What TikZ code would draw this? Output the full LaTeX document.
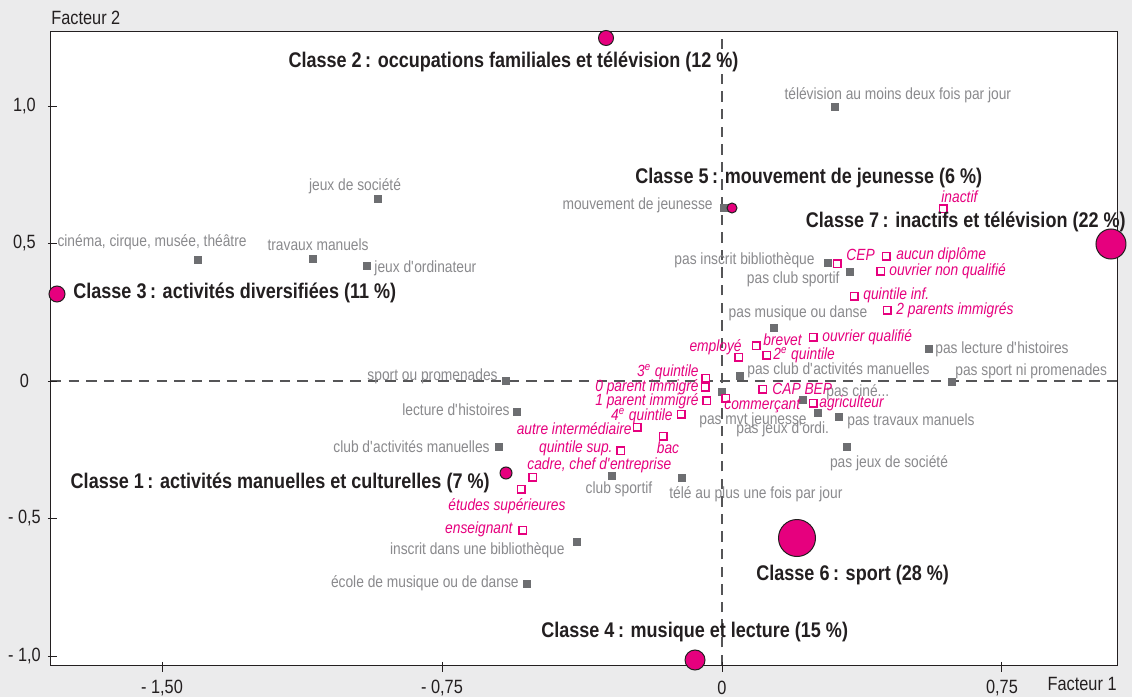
\documentclass[tikz,border=0pt]{standalone}
\usepackage{fontspec}
\setmainfont{Liberation Sans}[FakeStretch=0.85]
\usepackage{tikz}
\definecolor{Magenta}{HTML}{E6007E}
\definecolor{MarkGrey}{HTML}{6D6E71}
\definecolor{TextGrey}{HTML}{8A8A8D}
\definecolor{AxisGrey}{HTML}{555557}
\definecolor{ClassBlack}{HTML}{231F20}
\definecolor{BackGrey}{HTML}{EBEBEC}
\newcommand{\MarkSize}{3.9pt}
\newcommand{\BoxSize}{3.8pt}
\tikzset{GreyMark/.style={
    inner sep=0pt,
    minimum size=\MarkSize,
    fill=MarkGrey
    }
}
\tikzset{PinkMark/.style={
    inner sep=0pt,
    minimum size=\BoxSize,
    draw=Magenta,
    line width=0.7pt,
    fill=white
    }
}
\tikzset{ClassDot/.style={
    circle,
    inner sep=0pt,
    draw=ClassBlack,
    line width=0.5pt,
    fill=Magenta
    }
}
\tikzset{GreyText/.style={
    inner sep=0pt,
    text=TextGrey,
    font=\fontsize{8.1}{9}\selectfont
    }
}
\tikzset{PinkText/.style={
    inner sep=0pt,
    text=Magenta,
    font=\fontsize{8.1}{9}\selectfont\itshape
    }
}
\tikzset{ClassText/.style={
    inner sep=0pt,
    text=ClassBlack,
    font=\fontsize{10.6}{12}\selectfont\bfseries
    }
}
\tikzset{TickText/.style={
    inner sep=0pt,
    text=ClassBlack,
    font=\fontsize{9.6}{11}\selectfont
    }
}
\tikzset{AxisLine/.style={
    draw=AxisGrey,
    line width=1.1pt,
    dash pattern=on 5.2pt off 3.6pt
    }
}
\tikzset{TickLine/.style={
    draw=ClassBlack,
    line width=0.5pt
    }
}

\begin{document}
\begin{tikzpicture}[draw=black, x=186.65pt, y=137.5pt]
    \useasboundingbox (-1.9341,-1.1491) rectangle (1.0983,1.3855);
    \fill[BackGrey] (-1.9341,-1.1491) rectangle (1.0983,1.3855);

    \coordinate (f1) at (-1.7975,-1.0327);
    \coordinate (f2) at (1.0581,1.2691);
    \draw[fill=white, line width=0.5pt, draw=ClassBlack] (f1) rectangle (f2);

    % axes
    \coordinate (a1) at (-1.7975,0);
    \coordinate (a2) at (1.0581,0);
    \coordinate (a3) at (0,-1.0327);
    \coordinate (a4) at (0,1.2691);
    \draw[AxisLine] (a1) -- (a2);
    \draw[AxisLine] (a3) -- (a4);

    \draw[TickLine] (-1.5,-1.0327) ++(0,1.6pt) -- ++(0,-5pt);
    \draw[TickLine] (-0.75,-1.0327) ++(0,1.6pt) -- ++(0,-5pt);
    \draw[TickLine] (0,-1.0327) ++(0,1.6pt) -- ++(0,-5pt);
    \draw[TickLine] (0.75,-1.0327) ++(0,1.6pt) -- ++(0,-5pt);
    \node (x1)[TickText] at (-1.5,-1.1164) {- 1,50};
    \node (x2)[TickText] at (-0.75,-1.1164) {- 0,75};
    \node (x3)[TickText] at (0,-1.1164) {0};
    \node (x4)[TickText] at (0.75,-1.1164) {0,75};

    \draw[TickLine] (-1.7975,1) ++(-1.5pt,0) -- ++(4.5pt,0);
    \draw[TickLine] (-1.7975,0.5) ++(-1.5pt,0) -- ++(4.5pt,0);
    \draw[TickLine] (-1.7975,0) ++(-1.5pt,0) -- ++(4.5pt,0);
    \draw[TickLine] (-1.7975,-0.5) ++(-1.5pt,0) -- ++(4.5pt,0);
    \draw[TickLine] (-1.7975,-1) ++(-1.5pt,0) -- ++(4.5pt,0);
    \node (y1)[TickText] at (-1.8685,1) {1,0};
    \node (y2)[TickText] at (-1.8685,0.5) {0,5};
    \node (y3)[TickText] at (-1.8685,0) {0};
    \node (y4)[TickText] at (-1.8685,-0.5) {- 0,5};
    \node (y5)[TickText] at (-1.8685,-1) {- 1,0};

    \node (F2)[TickText, anchor=west] at (-1.7975,1.32) {Facteur 2};
    \node (F1)[TickText, anchor=east] at (1.0581,-1.1018) {Facteur 1};

    % activities
    \node (Tele2)[GreyMark] at (0.303,0.996) {};
    \node (tTele2)[GreyText] at (0.471,1.040) {télévision au moins deux fois par jour};
    \node (JeuxSoc)[GreyMark] at (-0.922,0.662) {};
    \node (tJeuxSoc)[GreyText] at (-0.983,0.709) {jeux de société};
    \node (Cinema)[GreyMark] at (-1.404,0.440) {};
    \node (tCinema)[GreyText, anchor=west] at (-1.781,0.505) {cinéma, cirque, musée, théâtre};
    \node (Travaux)[GreyMark] at (-1.096,0.444) {};
    \node (tTravaux)[GreyText] at (-1.082,0.4945) {travaux manuels};
    \node (Ordi)[GreyMark] at (-0.951,0.418) {};
    \node (tOrdi)[GreyText, anchor=west] at (-0.932,0.411) {jeux d\textquotesingle ordinateur};
    \node (SportProm)[GreyMark] at (-0.579,0) {};
    \node (tSportProm)[GreyText, anchor=east] at (-0.600,0.018) {sport ou promenades};
    \node (Lecture)[GreyMark] at (-0.549,-0.113) {};
    \node (tLecture)[GreyText, anchor=east] at (-0.568,-0.105) {lecture d\textquotesingle histoires};
    \node (ClubManu)[GreyMark] at (-0.597,-0.240) {};
    \node (tClubManu)[GreyText, anchor=east] at (-0.6215,-0.240) {club d\textquotesingle activités manuelles};
    \node (ClubSport)[GreyMark] at (-0.295,-0.345) {};
    \node (tClubSport)[GreyText] at (-0.276,-0.3927) {club sportif};
    \node (Tele1)[GreyMark] at (-0.107,-0.353) {};
    \node (tTele1)[GreyText, anchor=west] at (-0.142,-0.411) {télé au plus une fois par jour};
    \node (Biblio)[GreyMark] at (-0.388,-0.585) {};
    \node (tBiblio)[GreyText, anchor=east] at (-0.4206,-0.6145) {inscrit dans une bibliothèque};
    \node (Musique)[GreyMark] at (-0.522,-0.738) {};
    \node (tMusique)[GreyText, anchor=east] at (-0.5438,-0.7345) {école de musique ou de danse};
    \node (Mvt)[GreyMark] at (0.005,0.629) {};
    \node (tMvt)[GreyText, anchor=east] at (-0.0241,0.64) {mouvement de jeunesse};
    \node (PasBiblio)[GreyMark] at (0.284,0.429) {};
    \node (tPasBiblio)[GreyText, anchor=east] at (0.249,0.44) {pas inscrit bibliothèque};
    \node (PasClubSport)[GreyMark] at (0.343,0.396) {};
    \node (tPasClubSport)[GreyText, anchor=east] at (0.316,0.371) {pas club sportif};
    \node (PasMusique)[GreyMark] at (0.139,0.193) {};
    \node (tPasMusique)[GreyText] at (0.2036,0.2473) {pas musique ou danse};
    \node (PasLecture)[GreyMark] at (0.555,0.116) {};
    \node (tPasLecture)[GreyText, anchor=west] at (0.5706,0.1164) {pas lecture d\textquotesingle histoires};
    \node (PasSport)[GreyMark] at (0.616,-0.004) {};
    \node (tPasSport)[GreyText, anchor=west] at (0.6242,0.0364) {pas sport ni promenades};
    \node (PasClubManu)[GreyMark] at (0.048,0.018) {};
    \node (tPasClubManu)[GreyText, anchor=west] at (0.067,0.04) {pas club d\textquotesingle activités manuelles};
    \node (PasMvt)[GreyMark] at (0,-0.040) {};
    \node (tPasMvt)[GreyText, anchor=west] at (-0.0616,-0.1418) {pas mvt jeunesse};
    \node (PasCine)[GreyMark] at (0.217,-0.069) {};
    \node (tPasCine)[GreyText, anchor=west] at (0.2786,-0.04) {pas ciné...};
    \node (PasOrdi)[GreyMark] at (0.257,-0.116) {};
    \node (tPasOrdi)[GreyText, anchor=west] at (0.0375,-0.1745) {pas jeux d\textquotesingle ordi.};
    \node (PasTravaux)[GreyMark] at (0.313,-0.131) {};
    \node (tPasTravaux)[GreyText, anchor=west] at (0.3349,-0.1455) {pas travaux manuels};
    \node (PasSoc)[GreyMark] at (0.335,-0.240) {};
    \node (tPasSoc)[GreyText] at (0.4474,-0.2982) {pas jeux de société};

    % social background
    \node (Employe)[PinkMark] at (0.0455,0.0873) {};
    \node (tEmploye)[PinkText, anchor=east] at (0.0536,0.1236) {employé};
    \node (Brevet)[PinkMark] at (0.0911,0.1273) {};
    \node (tBrevet)[PinkText, anchor=west] at (0.1098,0.149) {brevet};
    \node (Quint2)[PinkMark] at (0.1205,0.0945) {};
    \node (tQuint2)[PinkText, anchor=west] at (0.1366,0.0945) {2\textsuperscript{e} quintile};
    \node (Quint3)[PinkMark] at (-0.0429,0.0109) {};
    \node (tQuint3)[PinkText, anchor=east] at (-0.0616,0.0327) {3\textsuperscript{e} quintile};
    \node (Parent0)[PinkMark] at (-0.0455,-0.0218) {};
    \node (tParent0)[PinkText, anchor=east] at (-0.0616,-0.0218) {0 parent immigré};
    \node (Parent1)[PinkMark] at (-0.0402,-0.0727) {};
    \node (tParent1)[PinkText, anchor=east] at (-0.0616,-0.0727) {1 parent immigré};
    \node (Quint4)[PinkMark] at (-0.1098,-0.12) {};
    \node (tQuint4)[PinkText, anchor=east] at (-0.1313,-0.1273) {4\textsuperscript{e} quintile};
    \node (Autre)[PinkMark] at (-0.2277,-0.1673) {};
    \node (tAutre)[PinkText, anchor=east] at (-0.2411,-0.1745) {autre intermédiaire};
    \node (Bac)[PinkMark] at (-0.158,-0.2) {};
    \node (tBac)[PinkText] at (-0.1447,-0.2436) {bac};
    \node (Commercant)[PinkMark] at (0.0107,-0.0618) {};
    \node (tCommercant)[PinkText, anchor=west] at (0.0054,-0.0909) {commerçant};
    \node (CapBep)[PinkMark] at (0.1098,-0.0291) {};
    \node (tCapBep)[PinkText, anchor=west] at (0.1339,-0.0291) {CAP BEP};
    \node (Agri)[PinkMark] at (0.2438,-0.08) {};
    \node (tAgri)[PinkText, anchor=west] at (0.2598,-0.08) {agriculteur};
    \node (OuvQ)[PinkMark] at (0.2438,0.16) {};
    \node (tOuvQ)[PinkText, anchor=west] at (0.2679,0.16) {ouvrier qualifié};
    \node (Cep)[PinkMark] at (0.3081,0.4255) {};
    \node (tCep)[PinkText, anchor=west] at (0.3322,0.4582) {CEP};
    \node (Aucun)[PinkMark] at (0.4393,0.4545) {};
    \node (tAucun)[PinkText, anchor=west] at (0.4661,0.4582) {aucun diplôme};
    \node (OuvNQ)[PinkMark] at (0.4259,0.4) {};
    \node (tOuvNQ)[PinkText, anchor=west] at (0.4474,0.4) {ouvrier non qualifié};
    \node (QuintInf)[PinkMark] at (0.3536,0.3091) {};
    \node (tQuintInf)[PinkText, anchor=west] at (0.3777,0.3127) {quintile inf.};
    \node (Parents2)[PinkMark] at (0.442,0.2582) {};
    \node (tParents2)[PinkText, anchor=west] at (0.4661,0.2582) {2 parents immigrés};
    \node (Inactif)[PinkMark] at (0.592,0.6255) {};
    \node (tInactif)[PinkText, anchor=west] at (0.5867,0.6691) {inactif};
    \node (QuintSup)[PinkMark] at (-0.2706,-0.2545) {};
    \node (tQuintSup)[PinkText, anchor=east] at (-0.292,-0.2436) {quintile sup.};
    \node (Cadre)[PinkMark] at (-0.5063,-0.3491) {};
    \node (tCadre)[PinkText, anchor=west] at (-0.5224,-0.3055) {cadre, chef d\textquotesingle entreprise};
    \node (Etudes)[PinkMark] at (-0.5384,-0.3927) {};
    \node (tEtudes)[PinkText] at (-0.576,-0.4545) {études supérieures};
    \node (Enseignant)[PinkMark] at (-0.5331,-0.5418) {};
    \node (tEnseignant)[PinkText, anchor=east] at (-0.5599,-0.5382) {enseignant};

    % classes
    \node (C1)[ClassDot, minimum size=6pt] at (-0.5786,-0.3345) {};
    \node (tC1)[ClassText, anchor=east] at (-0.6215,-0.3709) {Classe 1\,: activités manuelles et culturelles (7 \%)};
    \node (C2)[ClassDot, minimum size=7.5pt] at (-0.3107,1.2473) {};
    \node (tC2)[ClassText] at (-0.5585,1.16) {Classe 2\,: occupations familiales et télévision (12 \%)};
    \node (C3)[ClassDot, minimum size=8pt] at (-1.7814,0.3164) {};
    \node (tC3)[ClassText, anchor=west] at (-1.7385,0.32) {Classe 3\,: activités diversifiées (11 \%)};
    \node (C4)[ClassDot, minimum size=10pt] at (-0.0723,-1.0145) {};
    \node (tC4)[ClassText, anchor=west] at (-0.4849,-0.9127) {Classe 4\,: musique et lecture (15 \%)};
    \node (C5)[ClassDot, minimum size=5pt] at (0.0268,0.6291) {};
    \node (tC5)[ClassText, anchor=west] at (-0.233,0.7382) {Classe 5\,: mouvement de jeunesse (6 \%)};
    \node (C6)[ClassDot, minimum size=18.5pt] at (0.2009,-0.5709) {};
    \node (tC6)[ClassText, anchor=west] at (0.0911,-0.7055) {Classe 6\,: sport (28 \%)};
    \node (C7)[ClassDot, minimum size=15pt] at (1.042,0.4982) {};
    \node (tC7)[ClassText, anchor=east] at (1.0823,0.5782) {Classe 7\,: inactifs et télévision (22 \%)};

\end{tikzpicture}
\end{document}
